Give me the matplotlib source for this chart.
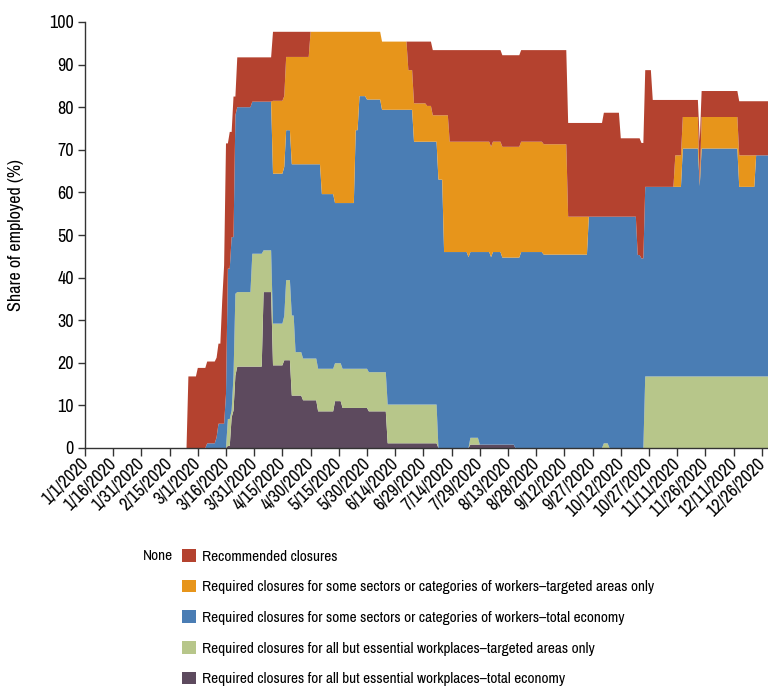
import numpy as np
import pandas as pd
import matplotlib
matplotlib.use("Agg")
import matplotlib.pyplot as plt
from matplotlib.patches import Patch
from matplotlib import font_manager
from matplotlib.transforms import ScaledTranslation

# ---------------- data (share of employed, %; value holds from each date on) ----------------
dates = ["2020-01-01", "2020-02-25", "2020-03-01", "2020-03-06", "2020-03-11", "2020-03-12",
         "2020-03-14", "2020-03-15", "2020-03-16", "2020-03-17", "2020-03-18", "2020-03-19",
         "2020-03-20", "2020-03-21", "2020-03-22", "2020-03-30", "2020-04-05", "2020-04-10",
         "2020-04-16", "2020-04-17", "2020-04-20", "2020-04-22", "2020-04-26", "2020-04-30",
         "2020-05-04", "2020-05-06", "2020-05-13", "2020-05-17", "2020-05-24", "2020-05-26",
         "2020-05-30", "2020-05-31", "2020-06-07", "2020-06-10", "2020-06-21", "2020-06-24",
         "2020-07-01", "2020-07-04", "2020-07-07", "2020-07-10", "2020-07-13", "2020-07-23",
         "2020-07-24", "2020-07-29", "2020-08-04", "2020-08-05", "2020-08-10", "2020-08-17",
         "2020-08-20", "2020-09-01", "2020-09-14", "2020-09-25", "2020-10-03", "2020-10-06",
         "2020-10-12", "2020-10-21", "2020-10-23", "2020-10-25", "2020-10-29", "2020-11-10",
         "2020-11-14", "2020-11-23", "2020-11-24", "2020-12-14", "2020-12-23", "2020-12-31"]

all_but_essential_total = [0, 0, 0, 0, 0, 0, 0, 0, 0, 0.5, 0.5, 7.2,
                           8.8, 17.0, 19.1, 19.1, 36.6, 19.4, 20.6, 20.6, 12.3, 12.3, 11.2, 11.2,
                           8.6, 8.6, 11.0, 9.4, 9.4, 9.4, 9.4, 8.6, 8.6, 1.1, 1.1, 1.1,
                           1.1, 1.1, 0, 0, 0, 0, 0.8, 0.8, 0.8, 0.8, 0.8, 0,
                           0, 0, 0, 0, 0, 0, 0, 0, 0, 0, 0, 0,
                           0, 0, 0, 0, 0, 0]
all_but_essential_targeted = [0, 0, 0, 0, 0, 0, 0, 0, 0, 6.3, 6.3, 1.6,
                              8.2, 19.2, 17.5, 26.5, 9.8, 9.8, 10.4, 18.8, 18.8, 10.2, 9.8, 9.8,
                              10.0, 10.0, 8.9, 9.2, 9.2, 9.2, 9.2, 9.2, 9.2, 9.1, 9.1, 9.1,
                              9.1, 9.1, 0, 0, 0, 0, 1.6, 0, 0, 0, 0, 0,
                              0, 0, 0, 0, 1.1, 0, 0, 0, 0, 16.8, 16.8, 16.8,
                              16.8, 16.8, 16.8, 16.8, 16.8, 16.8]
some_sectors_total = [0, 0, 0, 1.1, 2.5, 5.7, 5.7, 5.7, 12.7, 35.3, 35.3, 40.7,
                      32.5, 41.9, 43.4, 35.7, 34.9, 35.2, 35.0, 35.2, 35.5, 44.1, 45.6, 45.6,
                      48.0, 41.0, 37.6, 38.9, 56.0, 64.0, 63.2, 64.0, 61.6, 69.2, 69.2, 61.7,
                      61.7, 61.7, 63.0, 46.0, 46.0, 44.8, 43.6, 45.2, 44.0, 45.2, 43.9, 44.7,
                      46.0, 45.4, 45.4, 54.3, 53.2, 54.3, 54.3, 45.3, 44.5, 44.5, 44.5, 44.5,
                      53.5, 44.7, 53.5, 44.5, 51.9, 51.9]
some_sectors_targeted = [0, 0, 0, 0, 0, 0, 0, 0, 0, 0, 0, 0,
                         0, 0, 0, 0, 0, 17.1, 16.6, 17.2, 25.2, 25.2, 25.2, 31.1,
                         31.1, 38.1, 40.2, 40.2, 23.1, 15.1, 15.9, 15.9, 16.0, 16.0, 9.3, 9.0,
                         8.4, 6.2, 15.1, 32.1, 25.9, 27.1, 25.9, 25.9, 25.9, 25.9, 26.0, 26.0,
                         25.9, 25.9, 8.9, 0, 0, 0, 0, 0, 0, 0, 0, 7.4,
                         7.4, 0.2, 7.4, 7.4, 0, 0]
recommended = [0, 16.8, 18.8, 19.2, 18.7, 18.8, 29.0, 37.2, 58.8, 29.4, 32.1, 24.7,
               33.0, 4.4, 11.7, 10.4, 10.4, 16.2, 15.1, 5.9, 5.9, 5.9, 5.9, 0,
               0, 0, 0, 0, 0, 0, 0, 0, 0, 0, 6.7, 14.5,
               15.1, 15.3, 15.3, 15.3, 21.5, 21.5, 21.5, 21.5, 22.7, 21.5, 21.5, 21.5,
               21.5, 22.1, 22.0, 22.0, 24.4, 24.4, 18.4, 27.4, 27.1, 27.4, 20.4, 13.0,
               4.0, 10.3, 6.1, 12.7, 12.7, 12.7]

series_labels = ["Recommended closures",
                 "Required closures for some sectors or categories of workers\u2013targeted areas only",
                 "Required closures for some sectors or categories of workers\u2013total economy",
                 "Required closures for all but essential workplaces\u2013targeted areas only",
                 "Required closures for all but essential workplaces\u2013total economy"]
colors = ["#b4422f", "#e7951b", "#4a7db4", "#b7c68a", "#5d4a5e"]

tick_start = "2020-01-01"
tick_count = 25
tick_step_days = 15

# ---------------- fonts: prefer a condensed face ----------------
entries = font_manager.fontManager.ttflist
condensed = False
family = ["Liberation Sans", "DejaVu Sans"]
named = [f for f in entries if ("Narrow" in f.name or "Condensed" in f.name)
         and f.style == "normal"]
stretched = [f for f in entries if str(f.stretch) in ("condensed", "semi-condensed")
             and f.style == "normal"]
if named:
    family = [named[0].name, "DejaVu Sans"]
    condensed = True
elif stretched:
    family = [stretched[0].name, "DejaVu Sans"]
    plt.rcParams["font.stretch"] = str(stretched[0].stretch)
    condensed = True
plt.rcParams["font.family"] = family

legend_fs = 11 if condensed else 9.5
tick_fs = 13 if condensed else 11.5

# ---------------- figure ----------------
fig = plt.figure(figsize=(7.68, 6.87), dpi=100)
ax = fig.add_axes([85 / 768, 1 - 448 / 687, 683 / 768, 426 / 687])

# daily series: each value holds from its date until the next listed date
x = pd.to_datetime(dates)
daily = pd.date_range(x[0], x[-1], freq="D")
stack_order = [all_but_essential_total, all_but_essential_targeted, some_sectors_total,
               some_sectors_targeted, recommended]
ys = [pd.Series(v, index=x, dtype=float).reindex(daily, method="ffill").to_numpy()
      for v in stack_order]
ax.stackplot(daily, *ys, colors=colors[::-1], linewidth=0, edgecolor="none")

ticks = pd.date_range(tick_start, periods=tick_count, freq=f"{tick_step_days}D")
ax.set_xticks(ticks)
ax.set_xticklabels([f"{d.month}/{d.day}/{d.year}" for d in ticks], rotation=45,
                   ha="right", va="center", rotation_mode="anchor", fontsize=tick_fs)
shift = ScaledTranslation(-2 / 100, -7 / 100, fig.dpi_scale_trans)
for lab in ax.get_xticklabels():
    lab.set_transform(lab.get_transform() + shift)
ax.set_xlim(pd.Timestamp(tick_start), pd.Timestamp(tick_start) + pd.Timedelta(days=363.3))
ax.set_ylim(0, 100)
ax.set_yticks(np.arange(0, 101, 10))
ax.tick_params(axis="y", labelsize=tick_fs, length=5, width=1, color="#333333", pad=3)
ax.tick_params(axis="x", length=6, width=1, color="#333333", pad=3)
for s in ["top", "right"]:
    ax.spines[s].set_visible(False)
for s in ["left", "bottom"]:
    ax.spines[s].set_color("#333333")
    ax.spines[s].set_linewidth(1)
ax.set_ylabel("Share of employed (%)", fontsize=tick_fs)
ax.yaxis.set_label_coords(-61 / 683, 0.5)

handles = [Patch(facecolor=c, edgecolor="none") for c in colors]
em = legend_fs * 100 / 72
fig.legend(handles, series_labels, loc="upper left",
           bbox_to_anchor=(182 / 768, 1 - 549 / 687), bbox_transform=fig.transFigure,
           frameon=False, fontsize=legend_fs, handlelength=13.5 / em, handleheight=13.5 / em,
           handletextpad=7 / em, labelspacing=1.06,
           borderpad=0, borderaxespad=0)
fig.text(143 / 768, 1 - 556 / 687, "None", fontsize=legend_fs, va="center", ha="left")

fig.savefig("out.png", dpi=100)
